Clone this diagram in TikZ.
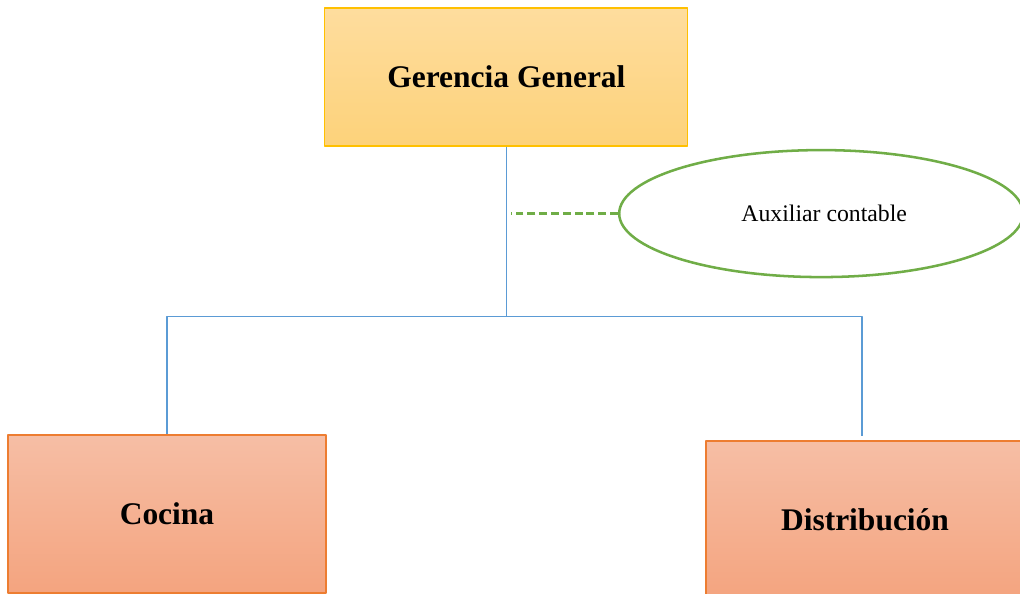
\documentclass[tikz,border=0pt]{standalone}
\usepackage{fontspec}
\setmainfont{Liberation Serif}
\usetikzlibrary{shapes.geometric}
\definecolor{gerTop}{HTML}{FEDD9E}
\definecolor{gerBot}{HTML}{FDD27A}
\definecolor{gerLine}{HTML}{FFC000}
\definecolor{depTop}{HTML}{F6BEA5}
\definecolor{depBot}{HTML}{F4A47F}
\definecolor{depLine}{HTML}{ED7D31}
\definecolor{linkBlue}{HTML}{5B9BD5}
\definecolor{auxGreen}{HTML}{70AD47}
\begin{document}
\begin{tikzpicture}[line join=round,
		gerbox/.style={draw=gerLine, line width=0.8pt, top color=gerTop, bottom color=gerBot,
			minimum width=9.075cm, minimum height=3.45cm, inner sep=0pt,
			font=\fontsize{22.4}{26}\selectfont\bfseries},
		depbox/.style={draw=depLine, line width=0.8pt, top color=depTop, bottom color=depBot,
			minimum width=7.95cm, minimum height=3.95cm, inner sep=0pt,
			font=\fontsize{22.4}{26}\selectfont\bfseries},
		auxbox/.style={ellipse, draw=auxGreen, line width=1.8pt, fill=white,
			minimum width=10.1cm, minimum height=3.175cm, inner sep=0pt,
			font=\fontsize{16.9}{20}\selectfont},
		link/.style={draw=linkBlue, line width=0.9pt}]
		\useasboundingbox (0,0) rectangle (25.5,14.85);
		\def\yjn{6.94}
		% cajas
		\node[gerbox] (ger) at (12.66,12.925) {Gerencia General};
		\node[auxbox] (aux) at (20.53,9.51) {\hspace{0.15cm}Auxiliar contable};
		\node[depbox] (coc) at (4.175,2.0) {Cocina};
		\node[depbox] (dis) at (21.625,1.85) {Distribución};
		% lineas
		\draw[link] (ger.south) -- (ger.south |- 0,\yjn) coordinate (jn);
		\draw[link] (jn) -| (coc.north);
		\draw[link] (jn) -| ([xshift=-0.075cm,yshift=0.1cm]dis.north);
		\draw[auxGreen, line width=1.6pt, dash pattern=on 5.6pt off 2.8pt] (aux.west) -- ++(-2.68,0);
	\end{tikzpicture}
\end{document}
